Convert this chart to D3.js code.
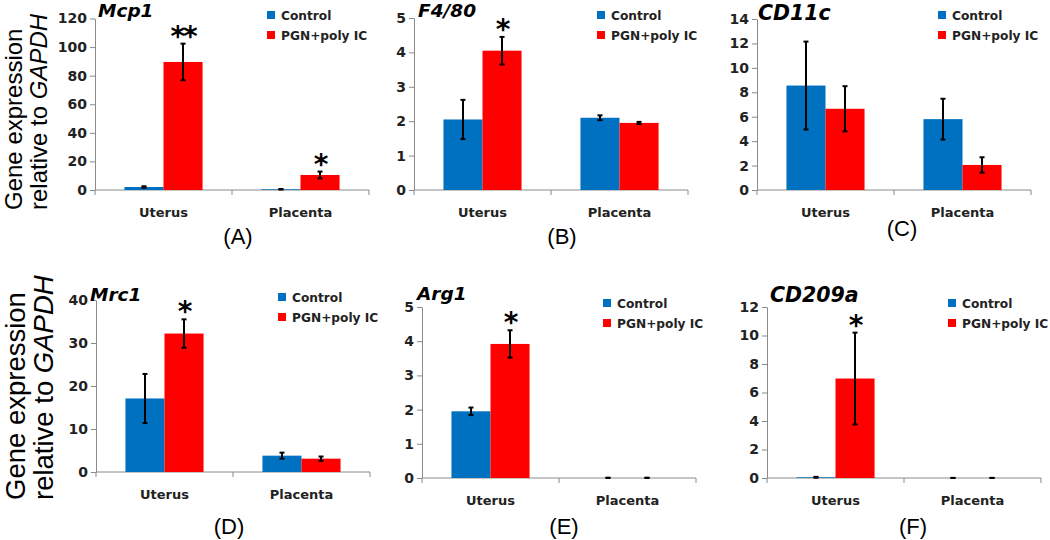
<!DOCTYPE html>
<html>
<head>
<meta charset="utf-8">
<script src="https://cdn.jsdelivr.net/npm/d3@7"></script>
<style>
  body { margin: 0; background: #fff; }
  svg { display: block; }
  .tick text { font-family: "DejaVu Sans", sans-serif; font-weight: bold; font-size: 14px; fill: #222; }
</style>
</head>
<body>
<div id="chart"></div>
<script>
const categories = ['Uterus', 'Placenta'];
const series = ['Control', 'PGN+poly IC'];
const genes = ['Mcp1', 'F4/80', 'CD11c', 'Mrc1', 'Arg1', 'CD209a'];
const panelLabels = ['(A)', '(B)', '(C)', '(D)', '(E)', '(F)'];

// [Uterus, Placenta] per gene
const controlMean = [[2.1, 0.5], [2.05, 2.1], [8.55, 5.8], [17.1, 3.8], [1.95, 0], [0.05, 0]];
const controlErr  = [[0.5, 0.2], [0.57, 0.07], [3.6, 1.67], [5.7, 0.7], [0.11, 0.01], [0.03, 0.01]];
const treatMean   = [[89.6, 10.5], [4.05, 1.95], [6.65, 2.05], [32.2, 3.1], [3.92, 0], [6.98, 0]];
const treatErr    = [[12.8, 2.4], [0.4, 0.03], [1.85, 0.63], [3.3, 0.5], [0.4, 0.01], [3.22, 0.01]];
const stars       = [['**', '*'], ['*', ''], ['', ''], ['*', ''], ['*', ''], ['*', '']];
const yMax  = [120, 5, 14, 40, 5, 12];
const yStep = [20, 1, 2, 10, 1, 2];

const colors = ['#0070C0', '#FF0000'];
const W = 1050, H = 540;

// panel placement (axis origin, plot top)
const panels = [
  {x0: 95,  y0: 190, top: 18.5, title: {x: 98,  y: 17, size: 18.5}, legend: {x: 267, y: 15}, label: {x: 238, y: 244}},
  {x0: 414, y0: 190, top: 18,   title: {x: 418, y: 17, size: 18.5}, legend: {x: 597, y: 15}, label: {x: 562, y: 244}},
  {x0: 757, y0: 190, top: 19,   title: {x: 758, y: 20, size: 20.5}, legend: {x: 938, y: 15}, label: {x: 902, y: 236}},
  {x0: 96,  y0: 472, top: 300,  title: {x: 90,  y: 301, size: 18.5}, legend: {x: 278, y: 297}, label: {x: 229, y: 534}},
  {x0: 422, y0: 478, top: 307,  title: {x: 417, y: 300, size: 18.5}, legend: {x: 603, y: 303}, label: {x: 564, y: 534}},
  {x0: 767, y0: 478, top: 307,  title: {x: 770, y: 302, size: 20.5}, legend: {x: 948, y: 303}, label: {x: 913, y: 534}}
];
const plotW = 274;

const svg = d3.select('#chart').append('svg')
  .attr('width', W)
  .attr('height', H);

panels.forEach((p, i) => {
  const g = svg.append('g');

  const x = d3.scaleBand()
    .domain(categories)
    .range([p.x0, p.x0 + plotW])
    .paddingInner(0.43)
    .paddingOuter(0.215);
  const x1 = d3.scaleBand()
    .domain(series)
    .range([0, x.bandwidth()]);
  const y = d3.scaleLinear()
    .domain([0, yMax[i]])
    .range([p.y0, p.top]);

  // y axis
  const yAxis = d3.axisLeft(y)
    .tickValues(d3.range(0, yMax[i] + yStep[i] / 2, yStep[i]))
    .tickFormat(d3.format('d'))
    .tickSize(5)
    .tickPadding(3)
    .tickSizeOuter(0);
  const ya = g.append('g')
    .attr('transform', `translate(${p.x0},0)`)
    .call(yAxis);
  ya.selectAll('path, line').attr('stroke', '#8a8a8a');

  // x axis with category divider ticks
  g.append('line')
    .attr('x1', p.x0).attr('x2', p.x0 + plotW)
    .attr('y1', p.y0).attr('y2', p.y0)
    .attr('stroke', '#8a8a8a');
  const dividers = [p.x0, p.x0 + x.step(), p.x0 + plotW];
  g.selectAll('.div')
    .data(dividers)
    .enter().append('line')
    .attr('x1', d => d).attr('x2', d => d)
    .attr('y1', p.y0).attr('y2', p.y0 + 5)
    .attr('stroke', '#8a8a8a');
  g.selectAll('.cat')
    .data(categories)
    .enter().append('text')
    .attr('x', d => x(d) + x.bandwidth() / 2)
    .attr('y', p.y0 + 27)
    .attr('text-anchor', 'middle')
    .style('font-family', '"DejaVu Sans", sans-serif')
    .style('font-weight', 'bold')
    .style('font-size', '13px')
    .attr('fill', '#222')
    .text(d => d);

  // bars
  const rows = [];
  categories.forEach((c, ci) => {
    rows.push({cat: c, s: series[0], v: controlMean[i][ci], e: controlErr[i][ci], star: ''});
    rows.push({cat: c, s: series[1], v: treatMean[i][ci], e: treatErr[i][ci], star: stars[i][ci]});
  });

  g.selectAll('.bar')
    .data(rows)
    .enter().append('rect')
    .attr('x', d => x(d.cat) + x1(d.s))
    .attr('y', d => y(d.v))
    .attr('width', x1.bandwidth())
    .attr('height', d => p.y0 - y(d.v))
    .attr('fill', d => colors[series.indexOf(d.s)]);

  // error bars
  const eb = g.selectAll('.err')
    .data(rows)
    .enter().append('g')
    .attr('transform', d => `translate(${x(d.cat) + x1(d.s) + x1.bandwidth() / 2},0)`);
  eb.append('line')
    .attr('y1', d => y(d.v + d.e)).attr('y2', d => y(Math.max(0, d.v - d.e)))
    .attr('stroke', '#000').attr('stroke-width', 2);
  eb.append('line')
    .attr('x1', -2.5).attr('x2', 2.5)
    .attr('y1', d => y(d.v + d.e)).attr('y2', d => y(d.v + d.e))
    .attr('stroke', '#000').attr('stroke-width', 2);
  eb.append('line')
    .attr('x1', -2.5).attr('x2', 2.5)
    .attr('y1', d => y(Math.max(0, d.v - d.e))).attr('y2', d => y(Math.max(0, d.v - d.e)))
    .attr('stroke', '#000').attr('stroke-width', 2);
  eb.filter(d => d.star)
    .append('text')
    .attr('y', d => y(d.v + d.e) + 2)
    .attr('text-anchor', 'middle')
    .style('font-family', '"DejaVu Sans", sans-serif')
    .style('font-weight', 'bold')
    .style('font-size', '28px')
    .style('letter-spacing', '-2px')
    .text(d => d.star);

  // gene title
  g.append('text')
    .attr('x', p.title.x).attr('y', p.title.y)
    .style('font-family', '"DejaVu Sans", sans-serif')
    .style('font-weight', 'bold')
    .style('font-style', 'italic')
    .style('font-size', p.title.size + 'px')
    .text(genes[i]);

  // legend
  const lg = g.append('g').attr('transform', `translate(${p.legend.x},${p.legend.y})`);
  series.forEach((s, si) => {
    lg.append('rect')
      .attr('x', 0).attr('y', si * 20 - 4)
      .attr('width', 8).attr('height', 8)
      .attr('fill', colors[si]);
    lg.append('text')
      .attr('x', 14).attr('y', si * 20 + 5)
      .style('font-family', '"DejaVu Sans", sans-serif')
      .style('font-weight', 'bold')
      .style('font-size', '12.2px')
      .attr('fill', '#222')
      .text(s);
  });

  // panel label
  g.append('text')
    .attr('x', p.label.x).attr('y', p.label.y)
    .attr('text-anchor', 'middle')
    .style('font-family', '"Liberation Sans", Arial, sans-serif')
    .style('font-size', '22px')
    .text(panelLabels[i]);
});

// shared y-axis titles
function yTitle(bx1, bx2, yStart, size) {
  const t1 = svg.append('text')
    .attr('transform', `translate(${bx1},${yStart}) rotate(-90)`)
    .style('font-family', '"Liberation Sans", Arial, sans-serif')
    .style('font-size', size + 'px')
    .text('Gene expression');
  const t2 = svg.append('text')
    .attr('transform', `translate(${bx2},${yStart}) rotate(-90)`)
    .style('font-family', '"Liberation Sans", Arial, sans-serif')
    .style('font-size', size + 'px');
  t2.append('tspan').text('relative to ');
  t2.append('tspan').style('font-style', 'italic').text('GAPDH');
}
yTitle(22, 47, 210, 24);
yTitle(25, 53, 500, 27.5);
</script>
</body>
</html>
